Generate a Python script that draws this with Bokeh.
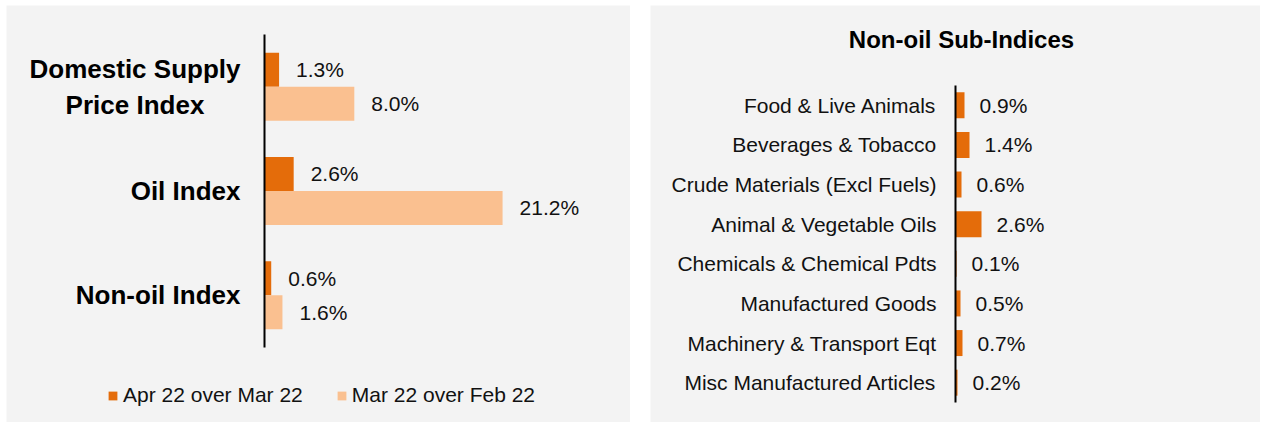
from bokeh.plotting import figure
from bokeh.models import (Range1d, ColumnDataSource, Legend, LegendItem, FixedTicker,
                          Label, Spacer)
from bokeh.layouts import row, column
from bokeh.embed import file_html
from bokeh.resources import INLINE
from bokeh.core.properties import value

# ---------------- data ----------------
main_categories = ["Domestic Supply Price Index", "Oil Index", "Non-oil Index"]
apr_over_mar = [1.3, 2.6, 0.6]
mar_over_feb = [8.0, 21.2, 1.6]
series_names = ["Apr 22 over Mar 22", "Mar 22 over Feb 22"]

sub_title = "Non-oil Sub-Indices"
sub_categories = ["Food & Live Animals", "Beverages & Tobacco", "Crude Materials (Excl Fuels)",
                  "Animal & Vegetable Oils", "Chemicals & Chemical Pdts", "Manufactured Goods",
                  "Machinery & Transport Eqt", "Misc Manufactured Articles"]
sub_values = [0.9, 1.4, 0.6, 2.6, 0.1, 0.5, 0.7, 0.2]

DARK = "#E46C0A"
LIGHT = "#FAC090"
BG = "#f3f3f3"
FONT = "Liberation Sans"
TXT = "#111111"


def fmt(vs):
    return [f"{v:.1f}%" for v in vs]


def wrap(c):
    # two-line label, second line visually centred under the first
    if c.startswith("Domestic Supply "):
        return c.replace("Supply ", "Supply\n") + "\u00a0" * 5
    return c


def style_frame(p):
    p.background_fill_color = BG
    p.border_fill_color = BG
    p.outline_line_color = None
    p.xaxis.visible = False
    p.xgrid.visible = False
    p.ygrid.visible = False


def style_axis(ax, n):
    ax.ticker = FixedTicker(ticks=[])
    ax.fixed_location = 0
    ax.bounds = (-0.5, n - 0.5)
    ax.axis_line_color = "black"
    ax.axis_line_width = 2
    ax.major_tick_line_color = None
    ax.minor_tick_line_color = None
    ax.major_tick_out = 0
    ax.major_tick_in = 0
    ax.major_label_standoff = 0


# ---------------- left panel ----------------
n1 = len(main_categories)
pos1 = list(range(n1))
src = ColumnDataSource(dict(
    y=pos1,
    ya=[i - 0.163 for i in pos1],
    yb=[i + 0.163 for i in pos1],
    name=[wrap(c) for c in main_categories],
    a=apr_over_mar, b=mar_over_feb,
    la=fmt(apr_over_mar), lb=fmt(mar_over_feb)))

p1 = figure(width=624, height=417, output_backend="svg", toolbar_location=None,
            x_range=Range1d(-22.97, 32.59), y_range=Range1d(3.220, -0.778),
            min_border_left=0, min_border_right=0, min_border_top=0, min_border_bottom=0)
style_frame(p1)
style_axis(p1.yaxis[0], n1)

r_a = p1.hbar(y="ya", right="a", left=0, height=0.326, source=src, color=DARK, line_color=None)
r_b = p1.hbar(y="yb", right="b", left=0, height=0.326, source=src, color=LIGHT, line_color=None)
p1.text(x="a", y="ya", text="la", source=src, x_offset=17, text_baseline="middle",
        text_font_size="21px", text_font=value(FONT), text_color=TXT)
p1.text(x="b", y="yb", text="lb", source=src, x_offset=17, text_baseline="middle",
        text_font_size="21px", text_font=value(FONT), text_color=TXT)
p1.text(x=0, y="y", text="name", source=src, x_offset=-24, text_align="right",
        text_baseline="middle", text_font_size="26px", text_font=value(FONT),
        text_font_style="bold", text_color="black", text_line_height=1.2)

legend = Legend(items=[LegendItem(label=series_names[0], renderers=[r_a]),
                       LegendItem(label=series_names[1], renderers=[r_b])],
                orientation="horizontal", location=(101, 15),
                glyph_width=11, glyph_height=11, label_standoff=5, spacing=33,
                label_text_font=FONT, label_text_font_size="21px", label_text_color=TXT,
                label_height=22, padding=0, margin=0,
                background_fill_alpha=0, border_line_color=None)
p1.add_layout(legend, "center")

# ---------------- right panel ----------------
n2 = len(sub_categories)
pos2 = list(range(n2))
src2 = ColumnDataSource(dict(y=pos2, name=sub_categories, v=sub_values, lv=fmt(sub_values)))

p2 = figure(width=610, height=417, output_backend="svg", toolbar_location=None,
            x_range=Range1d(-30.5, 30.5), y_range=Range1d(8.005, -2.519),
            min_border_left=0, min_border_right=0, min_border_top=0, min_border_bottom=0)
style_frame(p2)
style_axis(p2.yaxis[0], n2)

p2.hbar(y="y", right="v", left=0, height=0.656, source=src2, color=DARK, line_color=None)
p2.text(x="v", y="y", text="lv", source=src2, x_offset=15, text_baseline="middle",
        text_font_size="21px", text_font=value(FONT), text_color=TXT)
p2.text(x=0, y="y", text="name", source=src2, x_offset=-19, text_align="right",
        text_baseline="middle", text_font_size="21px", text_font=value(FONT), text_color=TXT)

p2.add_layout(Label(x=0.6, y=-1.661, text=sub_title, text_align="center",
                    text_baseline="middle", text_font=FONT, text_font_size="24px",
                    text_font_style="bold", text_color="black"))

layout = column(Spacer(height=5),
                row(Spacer(width=6), p1, Spacer(width=20), p2))
open("out.html", "w").write(file_html(layout, INLINE))
